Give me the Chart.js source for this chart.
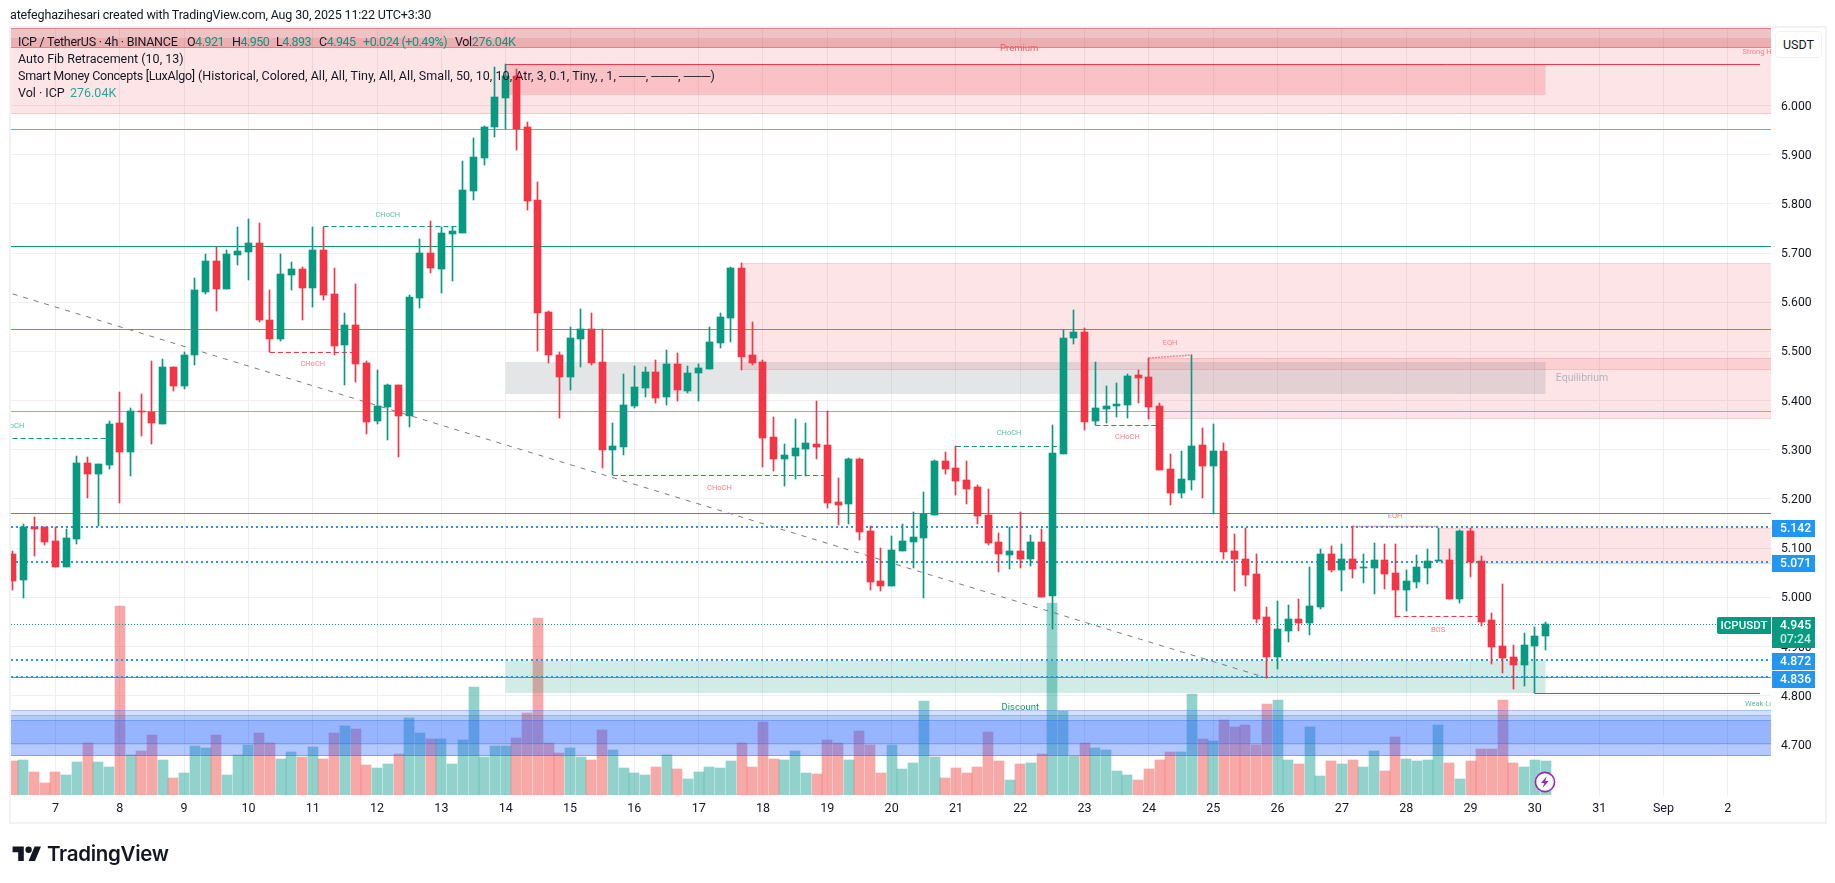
<!DOCTYPE html>
<html>
<head>
<meta charset="utf-8">
<title>ICPUSDT 4h</title>
<script src="https://cdn.jsdelivr.net/npm/chart.js@4/dist/chart.umd.min.js"></script>
<style>
    html, body { margin: 0; padding: 0; background: #fff; width: 1835px; height: 883px; overflow: hidden; }
    body { font-family: Roboto, sans-serif; color: #131722; }
    #frame { position: absolute; left: 9px; top: 26px; width: 1814px; height: 794px; border: 2px solid #f2f2f2; }
    #price-chart { position: absolute; left: 0; top: 0; }
    #created { position: absolute; left: 10px; top: 7px; font-size: 12.5px; line-height: 16px; letter-spacing: -0.16px; white-space: nowrap; }
    .row { position: absolute; height: 17px; font-size: 12.5px; line-height: 17px; white-space: nowrap; }
    .num { color: #089981; letter-spacing: -0.5px; }
    .vol { color: #26a69a; }
    #unit { position: absolute; left: 1775px; top: 31px; width: 45px; height: 25px; border: 1px solid #f0f1f3; border-radius: 4px; font-size: 12.5px; line-height: 25px; text-align: center; background: #fff; }
    #logo { position: absolute; left: 12px; top: 845px; }
    #brand { position: absolute; left: 47px; top: 841px; font-family: Inter, Roboto, sans-serif; font-weight: 600; font-size: 20.5px; line-height: 25px; letter-spacing: -0.3px; color: #131722; }
    #bolt { position: absolute; left: 1534px; top: 771px; }
</style>
</head>
<body>
<div id="frame"></div>
<canvas id="price-chart" width="1835" height="883"></canvas>
<div id="created">atefeghazihesari created with TradingView.com, Aug 30, 2025 11:22 UTC+3:30</div>

<div class="row" style="left:18px;top:33px;letter-spacing:-0.25px">ICP / TetherUS · 4h · BINANCE</div>
<div class="row" style="left:187px;top:33px;letter-spacing:-0.5px">O<span class="num">4.921</span></div>
<div class="row" style="left:232px;top:33px;letter-spacing:-0.5px">H<span class="num">4.950</span></div>
<div class="row" style="left:276px;top:33px;letter-spacing:-0.5px">L<span class="num">4.893</span></div>
<div class="row" style="left:319px;top:33px;letter-spacing:-0.5px">C<span class="num">4.945</span></div>
<div class="row num" style="left:363px;top:33px;letter-spacing:-0.45px">+0.024 (+0.49%)</div>
<div class="row" style="left:455px;top:33px;letter-spacing:-0.35px">Vol<span class="num" style="letter-spacing:-0.35px">276.04K</span></div>
<div class="row" style="left:18px;top:50px">Auto Fib Retracement (10, 13)</div>
<div class="row" style="left:18px;top:67px;letter-spacing:-0.27px">Smart Money Concepts [LuxAlgo]</div>
<div class="row" style="left:198px;top:67px;letter-spacing:0.04px">(Historical, Colored, All, All, Tiny, All, All, Small, 50, 10, 10, Atr, 3, 0.1, Tiny, , 1, ───, ───, ───)</div>
<div class="row" style="left:18px;top:84px">Vol · ICP</div>
<div class="row vol" style="left:70px;top:84px">276.04K</div>

<div id="unit">USDT</div>
<svg id="logo" width="30" height="16" viewBox="0 0 36 20"><path fill="#131722" d="M14 20H7V9H0V2h14v18zM28 20h-8l7.5-18h8L28 20z"/><circle fill="#131722" cx="20" cy="6" r="4"/></svg>
<div id="brand">TradingView</div>
<svg id="bolt" width="22" height="22" viewBox="0 0 22 22"><circle cx="11" cy="11" r="9.6" fill="#fff" stroke="#9c27b0" stroke-width="1.6"/><path fill="#9c27b0" d="M12.6 5.2 7 12h3.3l-1.6 4.8L14.7 10h-3.4z"/></svg>

<script>
// 4h candles, Aug 6 to Aug 30
const opens = [
    5.088, 5.035, 5.143, 5.143, 5.115, 5.062, 5.119, 5.273, 5.251, 5.269, 5.354, 5.296,
    5.379, 5.377, 5.352, 5.468, 5.430, 5.493, 5.621, 5.684, 5.627, 5.696, 5.702, 5.720,
    5.564, 5.525, 5.655, 5.668, 5.629, 5.706, 5.617, 5.513, 5.554, 5.476, 5.359, 5.387,
    5.432, 5.369, 5.609, 5.700, 5.668, 5.739, 5.741, 5.826, 5.893, 5.956, 6.015, 6.060,
    5.956, 5.808, 5.580, 5.493, 5.448, 5.525, 5.546, 5.478, 5.300, 5.306, 5.389, 5.426,
    5.458, 5.407, 5.474, 5.420, 5.456, 5.464, 5.517, 5.568, 5.670, 5.493, 5.478, 5.326,
    5.281, 5.287, 5.302, 5.312, 5.310, 5.194, 5.190, 5.281, 5.135, 5.033, 5.023, 5.094,
    5.112, 5.121, 5.167, 5.277, 5.263, 5.239, 5.224, 5.167, 5.112, 5.086, 5.094, 5.078,
    5.112, 5.003, 5.291, 5.527, 5.539, 5.358, 5.383, 5.389, 5.391, 5.452, 5.448, 5.389,
    5.261, 5.212, 5.238, 5.310, 5.267, 5.298, 5.094, 5.078, 5.047, 4.960, 4.879, 4.932,
    4.956, 4.948, 4.980, 5.088, 5.056, 5.078, 5.060, 5.060, 5.076, 5.049, 5.015, 5.031,
    5.060, 5.074, 5.076, 4.997, 5.135, 5.074, 4.954, 4.901, 4.879, 4.862, 4.901, 4.921
];
const highs = [
    5.094, 5.149, 5.163, 5.143, 5.143, 5.138, 5.287, 5.285, 5.271, 5.358, 5.418, 5.385,
    5.413, 5.481, 5.485, 5.468, 5.499, 5.649, 5.698, 5.712, 5.706, 5.753, 5.769, 5.761,
    5.625, 5.698, 5.682, 5.672, 5.753, 5.753, 5.670, 5.578, 5.637, 5.481, 5.462, 5.434,
    5.432, 5.615, 5.728, 5.765, 5.753, 5.753, 5.887, 5.934, 5.958, 6.078, 6.084, 6.074,
    5.966, 5.844, 5.582, 5.499, 5.550, 5.586, 5.578, 5.546, 5.354, 5.454, 5.470, 5.468,
    5.482, 5.503, 5.497, 5.470, 5.474, 5.550, 5.578, 5.672, 5.680, 5.560, 5.482, 5.367,
    5.312, 5.363, 5.354, 5.399, 5.379, 5.243, 5.283, 5.283, 5.145, 5.100, 5.125, 5.149,
    5.173, 5.214, 5.279, 5.295, 5.308, 5.277, 5.228, 5.220, 5.131, 5.143, 5.173, 5.127,
    5.139, 5.350, 5.544, 5.584, 5.548, 5.478, 5.430, 5.436, 5.454, 5.462, 5.487, 5.395,
    5.291, 5.298, 5.493, 5.344, 5.352, 5.314, 5.129, 5.141, 5.088, 4.980, 4.993, 4.984,
    4.997, 5.062, 5.098, 5.104, 5.108, 5.144, 5.088, 5.110, 5.108, 5.108, 5.056, 5.086,
    5.098, 5.141, 5.098, 5.137, 5.141, 5.084, 4.968, 5.027, 4.903, 4.927, 4.940, 4.950
];
const lows = [
    5.015, 4.999, 5.084, 5.106, 5.062, 5.062, 5.108, 5.202, 5.145, 5.261, 5.192, 5.247,
    5.328, 5.312, 5.352, 5.420, 5.424, 5.472, 5.617, 5.582, 5.627, 5.676, 5.645, 5.560,
    5.498, 5.521, 5.625, 5.564, 5.590, 5.605, 5.493, 5.432, 5.438, 5.332, 5.352, 5.320,
    5.285, 5.346, 5.588, 5.659, 5.619, 5.643, 5.741, 5.808, 5.879, 5.936, 5.952, 5.910,
    5.788, 5.501, 5.476, 5.365, 5.422, 5.468, 5.472, 5.263, 5.248, 5.289, 5.385, 5.407,
    5.395, 5.391, 5.399, 5.415, 5.399, 5.464, 5.507, 5.519, 5.462, 5.472, 5.265, 5.257,
    5.226, 5.241, 5.247, 5.281, 5.182, 5.147, 5.149, 5.117, 5.015, 5.013, 5.023, 5.094,
    5.060, 4.999, 5.167, 5.251, 5.208, 5.190, 5.149, 5.106, 5.051, 5.058, 5.060, 5.064,
    5.001, 4.936, 5.291, 5.515, 5.340, 5.350, 5.354, 5.367, 5.365, 5.395, 5.363, 5.259,
    5.188, 5.202, 5.218, 5.202, 5.170, 5.078, 5.013, 5.023, 4.948, 4.836, 4.854, 4.909,
    4.932, 4.923, 4.976, 5.051, 5.013, 5.039, 5.029, 5.007, 5.017, 4.960, 4.972, 5.019,
    5.027, 5.074, 4.997, 4.988, 5.041, 4.942, 4.864, 4.846, 4.814, 4.820, 4.805, 4.893
];
const closes = [
    5.033, 5.143, 5.139, 5.112, 5.062, 5.121, 5.273, 5.251, 5.271, 5.352, 5.296, 5.379,
    5.377, 5.354, 5.468, 5.430, 5.493, 5.625, 5.684, 5.627, 5.698, 5.704, 5.720, 5.563,
    5.525, 5.657, 5.668, 5.629, 5.706, 5.615, 5.511, 5.554, 5.474, 5.357, 5.389, 5.432,
    5.369, 5.611, 5.700, 5.670, 5.741, 5.745, 5.828, 5.895, 5.956, 6.017, 6.060, 5.952,
    5.806, 5.578, 5.493, 5.448, 5.527, 5.546, 5.476, 5.300, 5.308, 5.391, 5.428, 5.458,
    5.405, 5.474, 5.422, 5.456, 5.466, 5.519, 5.570, 5.670, 5.489, 5.476, 5.324, 5.281,
    5.289, 5.304, 5.314, 5.306, 5.192, 5.188, 5.281, 5.133, 5.032, 5.023, 5.096, 5.115,
    5.123, 5.169, 5.277, 5.261, 5.237, 5.220, 5.165, 5.110, 5.088, 5.094, 5.078, 5.112,
    5.001, 5.293, 5.527, 5.539, 5.356, 5.385, 5.389, 5.393, 5.450, 5.446, 5.387, 5.259,
    5.212, 5.241, 5.308, 5.267, 5.298, 5.092, 5.078, 5.045, 4.956, 4.879, 4.936, 4.956,
    4.948, 4.982, 5.088, 5.056, 5.078, 5.058, 5.062, 5.076, 5.047, 5.015, 5.033, 5.062,
    5.074, 5.076, 4.997, 5.135, 5.072, 4.950, 4.899, 4.877, 4.862, 4.903, 4.921, 4.945
];
// volume in thousands of ICP
const volumes = [
    276, 284, 187, 97, 187, 162, 268, 422, 268, 227, 1535, 325,
    357, 487, 284, 138, 179, 398, 382, 487, 162, 325, 406, 503,
    422, 292, 349, 309, 390, 292, 503, 560, 536, 244, 219, 252,
    333, 625, 503, 455, 455, 252, 447, 877, 309, 398, 398, 463,
    666, 1437, 422, 341, 382, 309, 284, 528, 365, 219, 179, 162,
    227, 325, 211, 130, 187, 227, 219, 276, 422, 227, 593, 292,
    284, 357, 179, 171, 447, 422, 284, 520, 406, 179, 406, 211,
    260, 763, 309, 138, 219, 179, 227, 512, 276, 122, 252, 260,
    333, 1559, 682, 317, 422, 382, 365, 195, 162, 122, 211, 284,
    349, 349, 820, 455, 439, 609, 552, 568, 406, 739, 771, 284,
    252, 552, 154, 276, 252, 284, 227, 357, 195, 471, 292, 276,
    284, 568, 260, 130, 276, 374, 374, 771, 260, 227, 284, 276.04
];

const priceTicks = [6.0, 5.9, 5.8, 5.7, 5.6, 5.5, 5.4, 5.3, 5.2, 5.1, 5.0, 4.9, 4.8, 4.7];
const dayTickIndex = [4, 10, 16, 22, 28, 34, 40, 46, 52, 58, 64, 70, 76, 82, 88, 94, 100, 106, 112, 118, 124, 130, 136, 142, 148, 154, 160];
const dayLabels = ['7', '8', '9', '10', '11', '12', '13', '14', '15', '16', '17', '18', '19', '20', '21', '22', '23', '24', '25', '26', '27', '28', '29', '30', '31', 'Sep', '2'];

// visible window of the two main axes
const firstBar = -0.149;
const lastBar = 164.03;
const priceMin = 4.598;
const priceMax = 6.1576;
const volumeMax = 6228;

// horizontal levels drawn across the chart
const fibTop = 5.9516;
const tealLevel = 5.7133;
const greenLevel = 5.5449;
const paleGreenLevel = 5.3782;
const redLevel = 5.1708;
const blueDottedLevels = [5.142, 5.071, 4.872, 4.836];
const blueSolidLevel = 4.836;
const lastPrice = 4.945;
const lastLabel = 'ICPUSDT';
const countdown = '07:24';

// market structure segments
const chochFrom = [0, 24, 29, 56, 88, 101];
const chochTo = [9, 32, 42, 76, 98, 107];
const chochPrice = [5.3233, 5.4982, 5.7543, 5.248, 5.307, 5.3497];
const chochBull = [true, false, true, false, true, false];
const bosFrom = [129];
const bosTo = [137];
const bosPrice = [4.96];
const eqhFrom = [106, 125];
const eqhTo = [110, 133];
const eqhStart = [5.4866, 5.1445];
const eqhEnd = [5.4927, 5.1445];
const swingBars = [46, 142];
const swingEnd = 163;
const strongHigh = 6.0838;
const weakLow = 4.8047;
const trendBars = [0, 117];
const trendPrices = [5.617, 4.836];

// shaded boxes, bar index range and price range
const zoneFrom = [firstBar, firstBar, firstBar, 46, 68, 106, 133, 46, 46, firstBar, firstBar, firstBar];
const zoneTo = [lastBar, lastBar, lastBar, 143, lastBar, lastBar, lastBar, 143, 143, lastBar, lastBar, lastBar];
const zoneHigh = [priceMax, priceMax, 6.1373, 6.0838, 5.6797, 5.4859, 5.1415, 5.4785, 4.87, 4.7708, 4.76, 4.75];
const zoneLow = [5.9833, 6.1175, 6.1175, 6.0213, 5.4629, 5.3631, 5.0671, 5.4135, 4.8047, 4.678, 4.678, 4.701];
const zoneFill = [
    'rgba(242, 54, 69, 0.13)', 'rgba(180, 40, 50, 0.18)', 'rgba(220, 60, 60, 0.15)', 'rgba(242, 54, 69, 0.2)',
    'rgba(242, 54, 69, 0.13)', 'rgba(242, 54, 69, 0.13)', 'rgba(242, 54, 69, 0.13)',
    'rgba(120, 123, 134, 0.2)', 'rgba(8, 153, 129, 0.19)',
    'rgba(41, 98, 255, 0.2)', 'rgba(41, 98, 255, 0.2)', 'rgba(41, 98, 255, 0.2)'
];
const zoneEdge = [
    'rgba(230, 110, 110, 0.25)', 'rgba(170, 60, 70, 0.35)', null, null,
    'rgba(242, 54, 69, 0.12)', 'rgba(242, 54, 69, 0.14)', 'rgba(242, 54, 69, 0.12)',
    null, null,
    'rgba(41, 98, 255, 0.25)', 'rgba(41, 98, 255, 0.2)', 'rgba(41, 98, 255, 0.3)'
];

// small text placed on the chart
const noteText = ['CHoCH', 'CHoCH', 'CHoCH', 'CHoCH', 'CHoCH', 'CHoCH', 'EQH', 'EQH', 'BOS', 'Strong High', 'Weak Low', 'Premium', 'Equilibrium', 'Discount'];
const noteBar = [-0.06, 28, 35, 65.93, 92.95, 104, 107.97, 128.96, 132.97, 163.2, 163.2, 93.9, 146.4, 94];
const notePrice = [5.349, 5.475, 5.778, 5.223, 5.3335, 5.3253, 5.5177, 5.166, 4.934, 6.109, 4.783, 6.115, 5.4445, 4.7755];
const noteColor = ['#52bfa9', '#f7808a', '#52bfa9', '#f7808a', '#52bfa9', '#f7808a', '#f7808a', '#f7808a', '#f7808a', '#f7808a', '#52bfa9', '#f2565f', '#b2b5be', '#089981'];
const noteSize = [7.5, 7.5, 7.5, 7.5, 7.5, 7.5, 7.5, 7.5, 7.5, 7.5, 7.5, 9.5, 10.5, 9.5];

const upColor = '#089981';
const downColor = '#f23645';
const isDown = closes.map((c, i) => c < opens[i]);
const candleColors = isDown.map(d => d ? downColor : upColor);
const volumeColors = isDown.map(d => d ? 'rgba(239, 83, 80, 0.5)' : 'rgba(38, 166, 154, 0.5)');

function segment(x0, y0, x1, y1, color, width, dash) {
    return {
        type: 'line',
        data: [{ x: x0, y: y0 }, { x: x1, y: y1 }],
        borderColor: color,
        borderWidth: width,
        borderDash: dash || [],
        pointRadius: 0,
        order: 20
    };
}

function levelLine(price, color, width, dash) {
    return segment(firstBar, price, lastBar, price, color, width, dash);
}

const lineSets = [
    levelLine(fibTop, '#64aee8', 1),
    levelLine(tealLevel, '#089981', 1),
    levelLine(greenLevel, '#57a75c', 1),
    levelLine(paleGreenLevel, '#81c784', 1),
    levelLine(redLevel, '#ef4c4c', 1),
    levelLine(lastPrice, '#089981', 1, [1, 2])
];
blueDottedLevels.forEach(p => lineSets.push(levelLine(p, '#2196f3', 2, [2, 3])));
lineSets.push(levelLine(blueSolidLevel, 'rgba(80, 120, 190, 0.85)', 1));
chochFrom.forEach((from, i) => {
    lineSets.push(segment(from, chochPrice[i], chochTo[i], chochPrice[i], chochBull[i] ? upColor : downColor, 1, [5, 3]));
});
bosFrom.forEach((from, i) => {
    lineSets.push(segment(from, bosPrice[i], bosTo[i], bosPrice[i], downColor, 1, [5, 3]));
});
eqhFrom.forEach((from, i) => {
    lineSets.push(segment(from, eqhStart[i], eqhTo[i], eqhEnd[i], '#f7808a', 1.4, [2, 1]));
});
lineSets.push(segment(swingBars[0], strongHigh, swingEnd, strongHigh, downColor, 1));
lineSets.push(segment(swingBars[1], weakLow, swingEnd, weakLow, upColor, 1));
lineSets.push(segment(trendBars[0], trendPrices[0], trendBars[1], trendPrices[1], '#787b86', 1, [5, 6]));

// zones sit over the volume bars and under everything else
const zonePlugin = {
    id: 'zones',
    afterDatasetDraw(chart, args) {
        if (args.index !== 0) return;
        const ctx = chart.ctx;
        const xs = chart.scales.x;
        const ys = chart.scales.y;
        ctx.save();
        zoneFrom.forEach((from, i) => {
            const left = xs.getPixelForValue(from);
            const right = xs.getPixelForValue(zoneTo[i]);
            const top = Math.round(ys.getPixelForValue(zoneHigh[i]));
            const bottom = Math.round(ys.getPixelForValue(zoneLow[i]));
            ctx.fillStyle = zoneFill[i];
            ctx.fillRect(left, top, right - left, bottom - top);
            if (zoneEdge[i]) {
                ctx.fillStyle = zoneEdge[i];
                ctx.fillRect(left, top, right - left, 1);
                ctx.fillRect(left, bottom - 1, right - left, 1);
            }
        });
        ctx.restore();
    }
};

// pixel-snap bars and flat lines so they stay crisp
const snapPlugin = {
    id: 'snap',
    afterDatasetsUpdate(chart) {
        chart.data.datasets.forEach((ds, d) => {
            const points = chart.getDatasetMeta(d).data;
            if (ds.type === 'line') {
                if (ds.data[0].y === ds.data[1].y) {
                    const half = ds.borderWidth % 2 ? 0.5 : 0;
                    points.forEach(p => { p.y = Math.floor(p.y) + half; });
                }
                return;
            }
            points.forEach(el => {
                el.x = ds.barThickness % 2 ? Math.floor(el.x) + 0.5 : Math.round(el.x);
                let top = Math.round(Math.min(el.y, el.base));
                let bottom = Math.round(Math.max(el.y, el.base));
                if (bottom === top) bottom = top + 1;
                el.y = top;
                el.base = bottom;
                el.height = bottom - top;
            });
        });
    }
};

const notesPlugin = {
    id: 'notes',
    afterDatasetsDraw(chart) {
        const ctx = chart.ctx;
        const area = chart.chartArea;
        const xs = chart.scales.x;
        const ys = chart.scales.y;
        ctx.save();
        ctx.beginPath();
        ctx.rect(area.left, area.top, area.right - area.left, area.bottom - area.top);
        ctx.clip();
        ctx.textAlign = 'center';
        ctx.textBaseline = 'middle';
        noteText.forEach((text, i) => {
            ctx.fillStyle = noteColor[i];
            ctx.font = noteSize[i] + 'px Roboto, sans-serif';
            ctx.fillText(text, xs.getPixelForValue(noteBar[i]), ys.getPixelForValue(notePrice[i]));
        });
        ctx.restore();
    }
};

// price tags on the axis, on top of the tick labels
const tagsPlugin = {
    id: 'tags',
    afterDraw(chart) {
        const ctx = chart.ctx;
        const ys = chart.scales.y;
        const left = chart.chartArea.right + 1;
        ctx.save();
        ctx.textBaseline = 'middle';
        ctx.textAlign = 'left';
        ctx.font = '500 12.2px Roboto, sans-serif';
        blueDottedLevels.forEach(p => {
            const y = Math.round(ys.getPixelForValue(p));
            ctx.fillStyle = '#2196f3';
            ctx.fillRect(left, y - 7, 43, 17);
            ctx.fillStyle = '#fff';
            ctx.fillText(p.toFixed(3), left + 8, y + 2);
        });

        const y = Math.round(ys.getPixelForValue(lastPrice));
        ctx.fillStyle = upColor;
        ctx.fillRect(left, y - 7, 43, 31);
        ctx.beginPath();
        ctx.roundRect(chart.chartArea.right - 54, y - 7, 54, 17, [2, 0, 0, 2]);
        ctx.fill();
        ctx.fillStyle = '#fff';
        ctx.fillText(lastPrice.toFixed(3), left + 8, y + 2);
        ctx.fillStyle = 'rgba(255, 255, 255, 0.78)';
        ctx.fillText(countdown, left + 8, y + 16);
        ctx.fillStyle = '#fff';
        ctx.textAlign = 'center';
        ctx.font = '500 11.5px Roboto, sans-serif';
        ctx.fillText(lastLabel, chart.chartArea.right - 27, y + 2);
        ctx.restore();
    }
};

new Chart(document.getElementById('price-chart').getContext('2d'), {
    type: 'bar',
    data: {
        datasets: [
            {
                data: volumes.map((v, i) => ({ x: i, y: v })),
                yAxisID: 'yVol',
                backgroundColor: volumeColors,
                barThickness: 10,
                order: 100
            },
            ...lineSets,
            {
                data: highs.map((h, i) => ({ x: i, y: [lows[i], h] })),
                backgroundColor: candleColors,
                barThickness: 1,
                order: 2
            },
            {
                data: opens.map((o, i) => ({ x: i, y: [o, closes[i]] })),
                backgroundColor: candleColors,
                barThickness: 7,
                order: 1
            }
        ]
    },
    options: {
        responsive: false,
        animation: false,
        events: [],
        layout: { padding: { left: 11, top: 28, right: 0, bottom: 0 } },
        datasets: { bar: { grouped: false, borderWidth: 0 } },
        plugins: {
            legend: { display: false },
            title: { display: false },
            tooltip: { enabled: false }
        },
        scales: {
            x: {
                type: 'linear',
                min: firstBar,
                max: lastBar,
                offset: false,
                border: { display: false },
                grid: { color: '#eeeff1', offset: false, drawTicks: false },
                ticks: {
                    autoSkip: false,
                    maxRotation: 0,
                    padding: 6,
                    color: '#131722',
                    font: { family: 'Roboto', size: 12.5 },
                    callback: value => dayLabels[dayTickIndex.indexOf(value)]
                },
                afterBuildTicks: scale => { scale.ticks = dayTickIndex.map(v => ({ value: v })); },
                afterFit: scale => { scale.height = 88; }
            },
            y: {
                type: 'linear',
                position: 'right',
                min: priceMin,
                max: priceMax,
                border: { display: false },
                grid: { color: '#eeeff1', drawTicks: false },
                ticks: {
                    padding: 10,
                    labelOffset: 1,
                    color: '#131722',
                    font: { family: 'Roboto', size: 12.2 },
                    callback: value => value.toFixed(3)
                },
                afterBuildTicks: scale => { scale.ticks = priceTicks.map(v => ({ value: v })); },
                afterFit: scale => { scale.width = 64; }
            },
            yVol: {
                type: 'linear',
                display: false,
                min: 0,
                max: volumeMax
            }
        }
    },
    plugins: [snapPlugin, zonePlugin, notesPlugin, tagsPlugin]
});
</script>
</body>
</html>
